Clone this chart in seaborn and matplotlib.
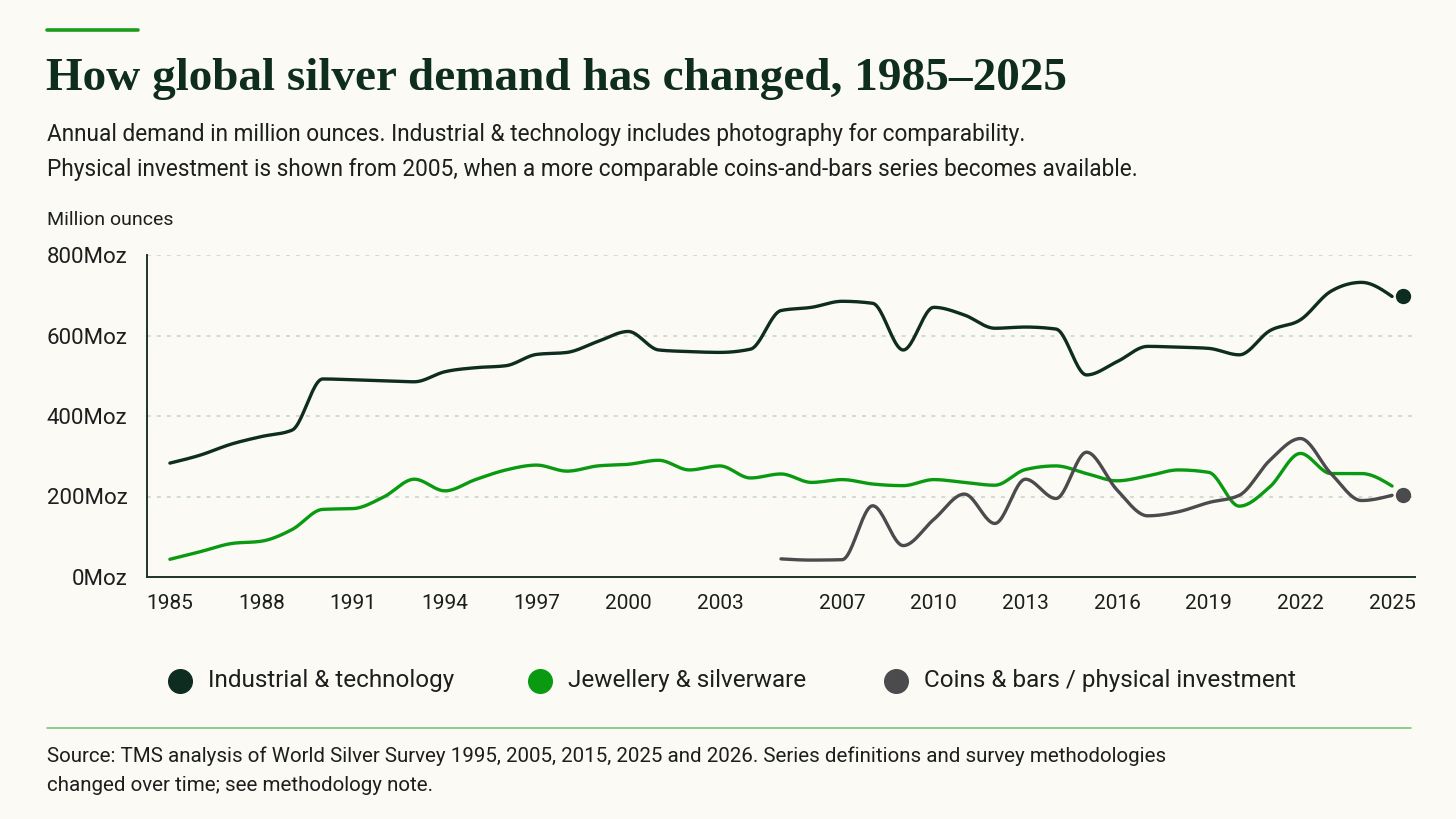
import numpy as np
import pandas as pd
import matplotlib
matplotlib.use("Agg")
import matplotlib.pyplot as plt
import matplotlib.transforms as mtransforms
from matplotlib.lines import Line2D
import seaborn as sns

# ---------------- data (million ounces) ----------------
years = list(range(1985, 2026))
industrial = [283, 303, 330, 349, 365, 492, 490, 487, 485, 510, 520, 525, 553, 558, 585,
              610, 564, 560, 558, 566, 662, 670, 685, 680, 564, 670, 651, 618, 621, 616,
              502, 535, 573, 571, 568, 552, 612, 639, 710, 732, 697]
jewellery = [44, 63, 83, 89, 118, 168, 170, 199, 243, 214, 242, 266, 278, 263, 276,
             280, 290, 266, 276, 246, 256, 235, 242, 231, 227, 242, 235, 228, 267, 276,
             257, 239, 251, 266, 260, 176, 224, 307, 257, 257, 226]
coin_years = list(range(2005, 2026))
coins = [45, 42, 43, 177, 78, 143, 206, 133, 243, 195, 310, 216, 152, 162, 185,
         203, 290, 344, 257, 190, 203]

series_names = ["Industrial & technology", "Jewellery & silverware",
                "Coins & bars / physical investment"]
colors = ["#0e2c1f", "#0a9a12", "#4b4b4d"]

x_ticks = [1985, 1988, 1991, 1994, 1997, 2000, 2003, 2007, 2010, 2013, 2016, 2019, 2022, 2025]
y_ticks = [0, 200, 400, 600, 800]

BG = "#fbfaf4"
TXT = "#1c1f1d"


def monotone_curve(x, y, n=24):
    """Monotone cubic (Fritsch-Carlson / d3 monotoneX) smoothing for drawing."""
    x = np.asarray(x, float)
    y = np.asarray(y, float)
    h = np.diff(x)
    s = np.diff(y) / h
    m = np.zeros_like(y)
    for k in range(1, len(y) - 1):
        p = (s[k - 1] * h[k] + s[k] * h[k - 1]) / (h[k - 1] + h[k])
        m[k] = (np.sign(s[k - 1]) + np.sign(s[k])) * min(abs(s[k - 1]), abs(s[k]), 0.5 * abs(p))
    m[0] = (3 * s[0] - m[1]) / 2
    m[-1] = (3 * s[-1] - m[-2]) / 2
    xs, ys = [], []
    for k in range(len(x) - 1):
        t = np.linspace(0, 1, n, endpoint=False)
        h00 = 2 * t**3 - 3 * t**2 + 1
        h10 = t**3 - 2 * t**2 + t
        h01 = -2 * t**3 + 3 * t**2
        h11 = t**3 - t**2
        xs.append(x[k] + t * h[k])
        ys.append(h00 * y[k] + h10 * h[k] * m[k] + h01 * y[k + 1] + h11 * h[k] * m[k + 1])
    xs.append([x[-1]])
    ys.append([y[-1]])
    return np.concatenate(xs), np.concatenate(ys)


frames = []
for name, xx, yy in [(series_names[0], years, industrial),
                     (series_names[1], years, jewellery),
                     (series_names[2], coin_years, coins)]:
    cx, cy = monotone_curve(xx, yy)
    frames.append(pd.DataFrame({"year": cx, "value": cy, "series": name}))
curve_df = pd.concat(frames, ignore_index=True)

# ---------------- figure ----------------
sns.set_theme(style="white")
plt.rcParams["font.family"] = ["Roboto", "DejaVu Sans"]

fig = plt.figure(figsize=(14.56, 8.19), dpi=100)
fig.patch.set_facecolor(BG)
ax = fig.add_axes([147 / 1456, 1 - 577 / 819, (1415 - 147) / 1456, (577 - 255) / 819])
ax.set_facecolor(BG)

sns.lineplot(data=curve_df, x="year", y="value", hue="series", hue_order=series_names,
             palette=colors, sort=False, estimator=None, linewidth=2.4, legend=False, ax=ax)

# end dots
off = mtransforms.offset_copy(ax.transData, fig=fig, x=11, y=0, units="dots")
ax.plot([years[-1]], [industrial[-1]], "o", ms=10, color=colors[0], transform=off, clip_on=False)
ax.plot([coin_years[-1]], [coins[-1]], "o", ms=10, color=colors[2], transform=off, clip_on=False)

ax.set_xlim(1984.25, 2025.75)
ax.set_ylim(0, 800)
ax.set_xticks(x_ticks)
ax.set_xticklabels([str(t) for t in x_ticks])
ax.set_yticks(y_ticks)
ax.set_yticklabels([f"{t}Moz" for t in y_ticks])
ax.tick_params(axis="both", length=0, labelcolor=TXT)
ax.tick_params(axis="y", pad=14, labelsize=16)
ax.tick_params(axis="x", pad=12, labelsize=15)
ax.set_xlabel("")
ax.set_ylabel("")
for t in y_ticks[1:]:
    ax.axhline(t, color="#c3d3c6", lw=1.1, ls=(0, (2.5, 4)), zorder=0)
for sp in ["top", "right"]:
    ax.spines[sp].set_visible(False)
for sp in ["left", "bottom"]:
    ax.spines[sp].set_color("#1d3528")
    ax.spines[sp].set_linewidth(1.4)

# ---------------- text ----------------
def fy(px):
    return 1 - px / 819

def fx(px):
    return px / 1456

fig.add_artist(Line2D([fx(47), fx(138)], [fy(30), fy(30)], color="#1c9c1c", lw=2.6))
fig.text(fx(46), fy(90), "How global silver demand has changed, 1985\u20132025",
         fontsize=34, fontweight="bold", family=["Liberation Serif", "DejaVu Serif"],
         color="#0f2d1f", va="baseline", ha="left")
fig.text(fx(47), fy(141), "Annual demand in million ounces. Industrial & technology includes "
         "photography for comparability.", fontsize=16.3, color=TXT, va="baseline")
fig.text(fx(47), fy(176), "Physical investment is shown from 2005, when a more comparable "
         "coins-and-bars series becomes available.", fontsize=16.3, color=TXT, va="baseline")
fig.text(fx(47), fy(225), "Million ounces", fontsize=14, color=TXT, va="baseline")

# legend
leg_marker_x = [180, 540, 896]
for name, col, mx in zip(series_names, colors, leg_marker_x):
    fig.add_artist(Line2D([fx(mx)], [fy(681)], marker="o", ms=17, color=col, lw=0))
    fig.text(fx(mx + 28), fy(681), name, fontsize=17.5, color=TXT, va="center", ha="left")

fig.add_artist(Line2D([fx(47), fx(1411)], [fy(728), fy(728)], color="#6cc46c", lw=1.1))
fig.text(fx(47), fy(762), "Source: TMS analysis of World Silver Survey 1995, 2005, 2015, 2025 "
         "and 2026. Series definitions and survey methodologies", fontsize=14.8, color=TXT,
         va="baseline")
fig.text(fx(47), fy(791), "changed over time; see methodology note.", fontsize=14.8,
         color=TXT, va="baseline")

fig.savefig("out.png", dpi=100, facecolor=BG)
